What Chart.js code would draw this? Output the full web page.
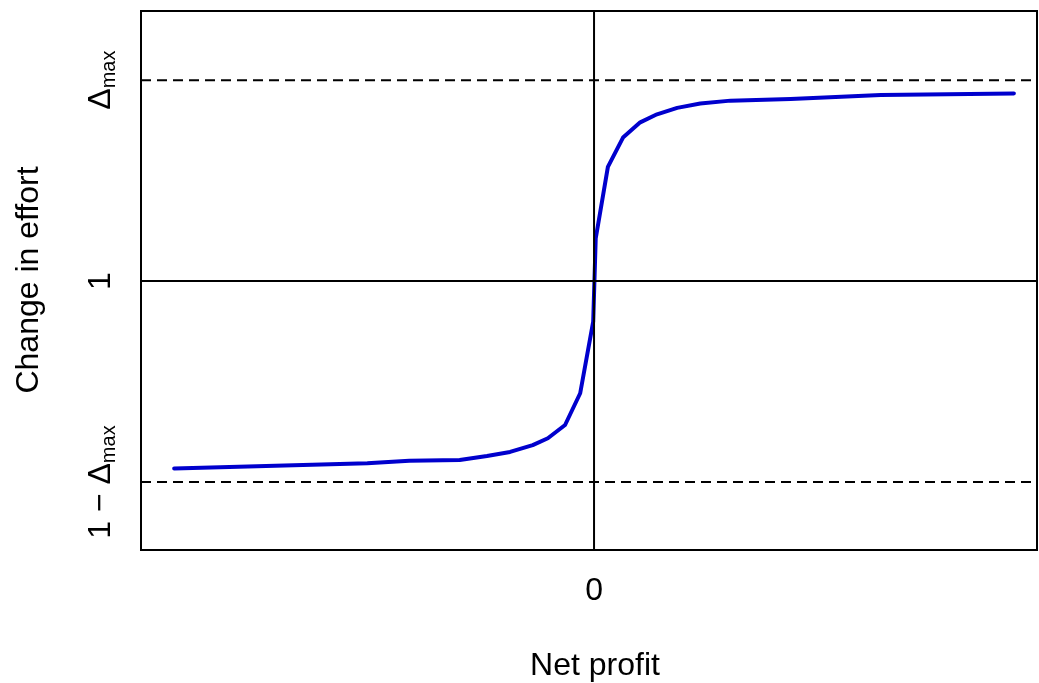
<!DOCTYPE html>
<html>
<head>
<meta charset="utf-8">
<script src="https://cdn.jsdelivr.net/npm/chart.js@4/dist/chart.umd.min.js"></script>
<style>
  html, body { margin: 0; padding: 0; background: #fff; }
  #wrap { width: 1039px; height: 683px; }
</style>
</head>
<body>
<div id="wrap"><canvas id="effortChart"></canvas></div>
<script>
// curve (net profit -> change in effort)
const netProfit = [-1.0, -0.54, -0.44, -0.32, -0.255, -0.2, -0.146, -0.11, -0.069, -0.033, -0.002,
  0.004, 0.033, 0.069, 0.11, 0.15, 0.198, 0.253, 0.325, 0.468, 0.683, 1.0];
const effortChange = [0.534, 0.547, 0.553, 0.555, 0.565, 0.575, 0.592, 0.609, 0.642, 0.721, 0.899,
  1.106, 1.284, 1.357, 1.395, 1.415, 1.431, 1.442, 1.449, 1.453, 1.463, 1.467];

const xTickValues = [0];
const xTickLabels = ['0'];
const yTickValues = [0.5, 1, 1.5];
const yTickLabels = [['1 \u2212 \u0394', 'max'], ['1', ''], ['\u0394', 'max']];
const limitValues = [0.5, 1.5];

const xMin = -1.079, xMax = 1.055;
const yMin = 0.331, yMax = 1.672;
const FONT = '"Liberation Sans", Arial, Helvetica, sans-serif';

const axisText = {
  id: 'axisText',
  afterDraw(chart) {
    const c = chart.ctx;
    const a = chart.chartArea;
    const xs = chart.scales.x, ys = chart.scales.y;
    c.save();
    c.strokeStyle = '#000';
    c.lineWidth = 2;
    c.strokeRect(a.left, a.top, a.right - a.left, a.bottom - a.top);

    c.fillStyle = '#000';
    c.font = '32px ' + FONT;
    c.textAlign = 'center';
    c.textBaseline = 'middle';
    xTickValues.forEach((v, i) => c.fillText(xTickLabels[i], xs.getPixelForValue(v), 591));
    c.fillText('Net profit', 595, 666);

    // rotated y labels
    c.save();
    c.translate(38, 280);
    c.rotate(-Math.PI / 2);
    c.textBaseline = 'alphabetic';
    c.fillText('Change in effort', 0, 0);
    c.restore();

    yTickValues.forEach((v, i) => {
      const [main, sub] = yTickLabels[i];
      const py = ys.getPixelForValue(v);
      c.font = '32px ' + FONT;
      const w1 = c.measureText(main).width;
      c.font = '20px ' + FONT;
      const w2 = sub ? c.measureText(sub).width : 0;
      c.save();
      c.translate(110, py);
      c.rotate(-Math.PI / 2);
      c.textAlign = 'left';
      c.textBaseline = 'alphabetic';
      const x0 = -(w1 + w2) / 2;
      c.font = '32px ' + FONT;
      c.fillText(main, x0, 0);
      if (sub) {
        c.font = '20px ' + FONT;
        c.fillText(sub, x0 + w1, 5);
      }
      c.restore();
    });
    c.restore();
  }
};

const refStyle = { borderColor: '#000', borderWidth: 2, pointRadius: 0, fill: false };

new Chart(document.getElementById('effortChart'), {
  type: 'line',
  data: {
    datasets: [
      { ...refStyle, label: 'zero profit', data: [{ x: 0, y: yMin }, { x: 0, y: yMax }] },
      { ...refStyle, label: 'no change', data: [{ x: xMin, y: 1 }, { x: xMax, y: 1 }] },
      ...limitValues.map(v => ({ ...refStyle, label: 'limit ' + v, borderDash: [10, 6],
        data: [{ x: xMin, y: v }, { x: xMax, y: v }] })),
      {
        label: 'Change in effort',
        data: netProfit.map((x, i) => ({ x: x, y: effortChange[i] })),
        borderColor: '#0000CD',
        borderWidth: 4,
        borderCapStyle: 'round',
        borderJoinStyle: 'round',
        pointRadius: 0,
        fill: false,
        tension: 0
      }
    ]
  },
  options: {
    responsive: true,
    maintainAspectRatio: false,
    animation: false,
    layout: { padding: { left: 141, top: 11, right: 2, bottom: 133 } },
    plugins: { legend: { display: false }, tooltip: { enabled: false } },
    scales: {
      x: { type: 'linear', min: xMin, max: xMax, display: false },
      y: { type: 'linear', min: yMin, max: yMax, display: false }
    }
  },
  plugins: [axisText]
});
</script>
</body>
</html>
